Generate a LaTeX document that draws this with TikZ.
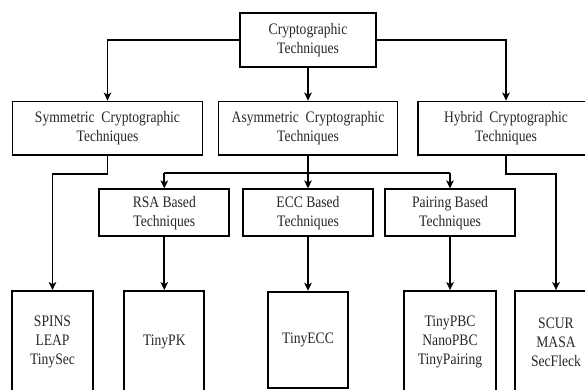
\documentclass[tikz,border=0pt]{standalone}
\usepackage{fontspec}
\setmainfont{Liberation Serif}[FakeStretch=0.85]
\usetikzlibrary{arrows.meta}
\begin{document}
\begin{tikzpicture}[x=1pt,y=1pt,
  box/.style={draw=black, line width=1.8pt, align=center, inner sep=0pt,
    font=\fontsize{16}{19}\selectfont, text=black!85},
  conn/.style={line width=1.8pt, black},
  arr/.style={conn, -{Stealth[length=8pt,width=7.5pt,inset=2pt]}}]
\useasboundingbox (0,0) rectangle (585,-389);
% level 0
\node[box, minimum width=136pt, minimum height=54pt] (top) at (308,-40) {Cryptographic\\Techniques};
% level 1
\node[box, minimum width=190pt, minimum height=53.5pt] (sym) at (107.5,-128.3) {Symmetric\ \ Cryptographic\\Techniques};
\node[box, minimum width=179pt, minimum height=53.5pt] (asym) at (308,-128.3) {Asymmetric\ \ Cryptographic\\Techniques};
\node[box, minimum width=176pt, minimum height=53.5pt] (hyb) at (506,-128.3) {Hybrid\ \ Cryptographic\\Techniques};
% level 2
\node[box, minimum width=130pt, minimum height=46.7pt] (rsa) at (164.3,-212.7) {RSA Based\\Techniques};
\node[box, minimum width=130pt, minimum height=46.7pt] (ecc) at (308,-212.7) {ECC Based\\Techniques};
\node[box, minimum width=130pt, minimum height=46.7pt] (pair) at (450,-212.7) {Pairing Based\\Techniques};
% level 3
\node[box, minimum width=80.4pt, minimum height=102pt] (spins) at (52.5,-342) {SPINS\\LEAP\\TinySec};
\node[box, minimum width=80pt, minimum height=102pt] (tinypk) at (164.3,-342) {TinyPK};
\node[box, minimum width=80.6pt, minimum height=96pt] (tinyecc) at (308,-339.7) {TinyECC};
\node[box, minimum width=92.7pt, minimum height=102pt] (tinypbc) at (450,-342) {TinyPBC\\NanoPBC\\TinyPairing};
\node[box, minimum width=81.4pt, minimum height=102pt] (scur) at (556,-342) {SCUR\\MASA\\SecFleck};
% helper coordinates
\coordinate (symbend) at (107.5,-173.7);
\coordinate (hybbend) at (506,-173.7);
\coordinate (asymbar) at (308,-172.7);
% connectors
\draw[arr] (top.west) -| (sym.north);
\draw[arr] (top.east) -| (hyb.north);
\draw[arr] (top.south) -- (asym.north);
\draw[arr] (sym.south) -- (symbend) -| (spins.north);
\draw[arr] (hyb.south) -- (hybbend) -| (scur.north);
\draw[arr] (asym.south) -- (ecc.north);
\draw[conn] (asymbar -| rsa.north) -- (asymbar -| pair.north);
\draw[arr] (asymbar -| rsa.north) -- (rsa.north);
\draw[arr] (asymbar -| pair.north) -- (pair.north);
\draw[arr] (rsa.south) -- (tinypk.north);
\draw[arr] (ecc.south) -- (tinyecc.north);
\draw[arr] (pair.south) -- (tinypbc.north);
\end{tikzpicture}
\end{document}
